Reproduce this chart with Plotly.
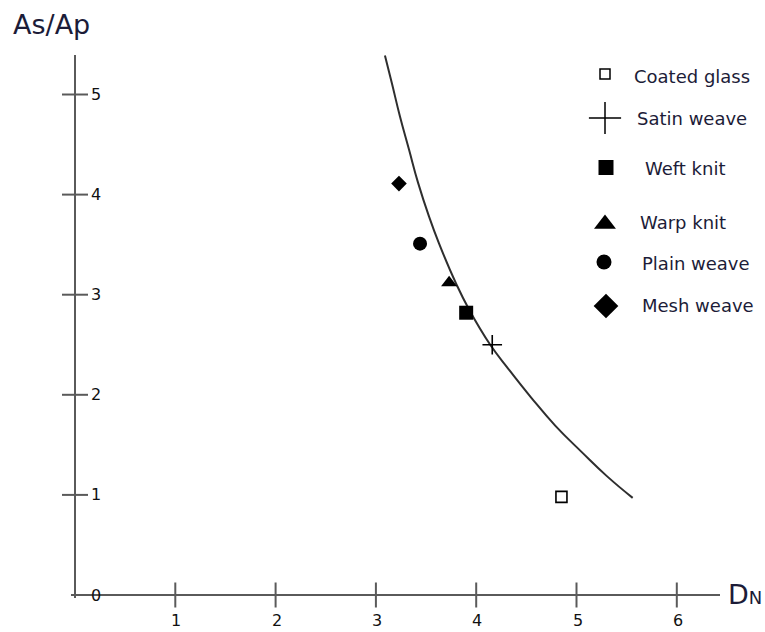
import plotly.graph_objects as go

# ---- data -------------------------------------------------------------
series_names = ["Coated glass", "Satin weave", "Weft knit", "Warp knit", "Plain weave", "Mesh weave"]
dn_values = [4.85, 4.16, 3.90, 3.73, 3.44, 3.23]
as_ap_values = [0.98, 2.50, 2.82, 3.12, 3.51, 4.11]

# fitted trend curve (DN, As/Ap)
curve_dn = [3.09, 3.16, 3.24, 3.33, 3.42, 3.53, 3.63, 3.80, 3.93, 4.14, 4.32, 4.55, 4.79, 5.05, 5.30, 5.56]
curve_as_ap = [5.39, 5.11, 4.78, 4.45, 4.12, 3.78, 3.51, 3.11, 2.85, 2.50, 2.26, 1.97, 1.69, 1.43, 1.19, 0.97]

x_ticks = [1, 2, 3, 4, 5, 6]
y_ticks = [0, 1, 2, 3, 4, 5]

# ---- styling ----------------------------------------------------------
W, H = 765, 632
X0_PX, X_SCALE = 75, 100.3      # pixel of DN = 0, pixels per unit
Y0_PX, Y_SCALE = 595, 100.1     # pixel of As/Ap = 0, pixels per unit
FONT = "DejaVu Sans"
AXIS_COLOR = "#5a5a5a"
TEXT_COLOR = "#1c1c38"

symbols = ["square-open", "cross-thin", "square", "triangle-up", "circle", "diamond"]
plot_sizes = [11, 14, 14, 14, 14, 12]
legend_sizes = [10, 23, 15, 19, 15, 19]
# key layout in pixels: marker centre, text left edge, text centre line
legend_marker_x = [605, 605, 606, 605, 604, 606]
legend_marker_y = [74, 118, 167.5, 224, 262, 306]
legend_text_x = [632, 635, 643, 638, 640, 640]
legend_text_y = [76, 118, 168, 222, 263, 305]

fig = go.Figure()

# trend curve
fig.add_trace(go.Scatter(
    x=curve_dn, y=curve_as_ap, mode="lines",
    line=dict(color="#2e2e2e", width=2, shape="spline", smoothing=1.3),
    hoverinfo="skip", showlegend=False,
))

# measured points
for name, sx, sy, sym, sz in zip(series_names, dn_values, as_ap_values, symbols, plot_sizes):
    fig.add_trace(go.Scatter(
        x=[sx], y=[sy], mode="markers", name=name, showlegend=False,
        marker=dict(symbol=sym, size=sz, color="black",
                    line=dict(color="black", width=1.6 if "open" in sym or "thin" in sym else 0)),
    ))

# hand-placed key on a pixel overlay axis
for name, sym, sz, mx, my, tx, ty in zip(series_names, symbols, legend_sizes,
                                          legend_marker_x, legend_marker_y,
                                          legend_text_x, legend_text_y):
    fig.add_trace(go.Scatter(
        x=[mx], y=[my], xaxis="x2", yaxis="y2", mode="markers", showlegend=False,
        marker=dict(symbol=sym, size=sz, color="black",
                    line=dict(color="black", width=1.5 if "open" in sym or "thin" in sym else 0)),
        hoverinfo="skip",
    ))
    fig.add_annotation(x=tx, y=ty, xref="x2", yref="y2", text=name, showarrow=False,
                       xanchor="left", yanchor="middle",
                       font=dict(family=FONT, size=18, color=TEXT_COLOR))

# axes drawn as lines in data coordinates
x_end = (720 - X0_PX) / X_SCALE
y_end = (Y0_PX - 55) / Y_SCALE
tick_dx = 13 / X_SCALE
tick_dy = 12.5 / Y_SCALE
shapes = [
    dict(type="line", xref="x", yref="y", x0=-0.04, y0=0, x1=x_end, y1=0,
         line=dict(color=AXIS_COLOR, width=2)),
    dict(type="line", xref="x", yref="y", x0=0, y0=-0.03, x1=0, y1=y_end,
         line=dict(color=AXIS_COLOR, width=2)),
]
for t in x_ticks:
    shapes.append(dict(type="line", xref="x", yref="y", x0=t, y0=-tick_dy, x1=t, y1=tick_dy,
                       line=dict(color=AXIS_COLOR, width=2)))
    fig.add_annotation(x=t, y=0, xref="x", yref="y", text=str(t), showarrow=False,
                       xanchor="center", yanchor="middle", yshift=-25, xshift=1,
                       font=dict(family=FONT, size=16, color="#111111"))
for t in y_ticks:
    if t > 0:
        shapes.append(dict(type="line", xref="x", yref="y", x0=-tick_dx, y0=t, x1=tick_dx, y1=t,
                           line=dict(color=AXIS_COLOR, width=2)))
    fig.add_annotation(x=0, y=t, xref="x", yref="y", text=str(t), showarrow=False,
                       xanchor="left", yanchor="middle", xshift=14,
                       font=dict(family=FONT, size=16, color="#111111"))

# axis titles
fig.add_annotation(x=11, y=24, xref="x2", yref="y2", text="As/Ap", showarrow=False,
                   xanchor="left", yanchor="middle",
                   font=dict(family=FONT, size=27, color=TEXT_COLOR))
fig.add_annotation(x=726, y=594, xref="x2", yref="y2",
                   text="D<span style='font-size:18px'>N</span>", showarrow=False,
                   xanchor="left", yanchor="middle",
                   font=dict(family=FONT, size=27, color=TEXT_COLOR))

fig.update_layout(
    width=W, height=H,
    margin=dict(l=0, r=0, t=0, b=0),
    paper_bgcolor="white", plot_bgcolor="white",
    xaxis=dict(range=[(0 - X0_PX) / X_SCALE, (W - X0_PX) / X_SCALE], visible=False, fixedrange=True),
    yaxis=dict(range=[(Y0_PX - H) / Y_SCALE, Y0_PX / Y_SCALE], visible=False, fixedrange=True),
    xaxis2=dict(range=[0, W], visible=False, overlaying="x", fixedrange=True),
    yaxis2=dict(range=[H, 0], visible=False, overlaying="y", fixedrange=True),
    shapes=shapes,
    showlegend=False,
)

fig.write_html("out.html")
